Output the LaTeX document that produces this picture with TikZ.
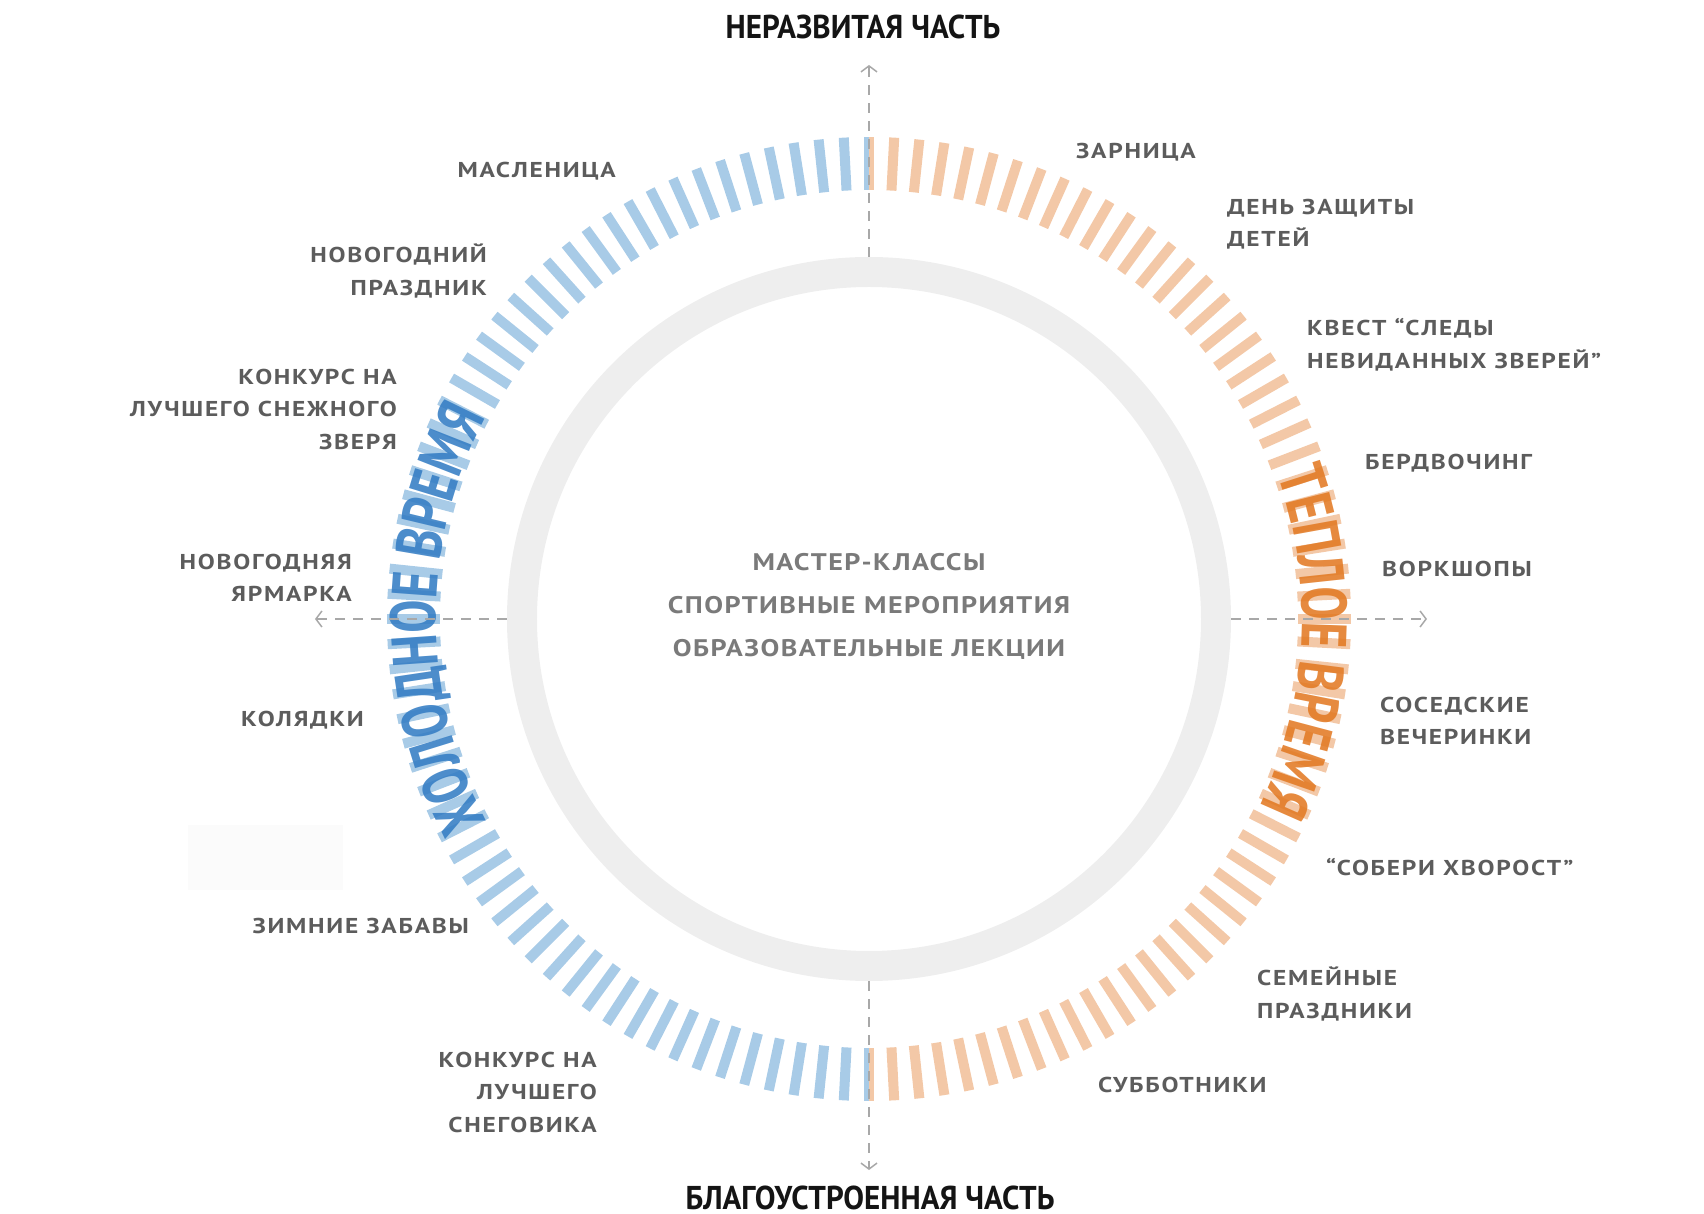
\documentclass[tikz,border=0pt]{standalone}
\usepackage{fontspec}
\usetikzlibrary{arrows.meta,decorations.text}
\newfontfamily\lblfont[FakeStretch=1.18,LetterSpace=8]{PT Sans}
\newfontfamily\ctrfont[FakeStretch=1.17,LetterSpace=6]{PT Sans}
\newfontfamily\ttlfont[FakeStretch=0.94]{PT Sans}
\newfontfamily\crvfont[FakeStretch=0.78]{PT Sans}
\definecolor{coldtick}{RGB}{168,203,231}
\definecolor{warmtick}{RGB}{243,200,167}
\definecolor{coldtxt}{RGB}{52,125,196}
\definecolor{warmtxt}{RGB}{226,122,36}
\definecolor{ringgray}{RGB}{238,238,238}
\definecolor{lblgray}{RGB}{92,92,92}
\definecolor{midgray}{RGB}{122,122,122}
\definecolor{axisgray}{RGB}{168,168,168}
\begin{document}
\begin{tikzpicture}[x=1pt,y=1pt,
  tickmark/.style={line width=10pt,line cap=butt},
  axisline/.style={axisgray,line width=1.5pt,dash pattern=on 10pt off 8pt,-{Straight Barb[length=6pt,width=16pt]}},
  lblL/.style={font=\lblfont\bfseries\fontsize{21.5}{32.5}\selectfont,text=lblgray,align=right,anchor=east,inner sep=0pt},
  lblR/.style={font=\lblfont\bfseries\fontsize{21.5}{32.5}\selectfont,text=lblgray,align=left,anchor=west,inner sep=0pt},
  ttl/.style={font=\ttlfont\bfseries\fontsize{33}{40}\selectfont,text=black!92,inner sep=0pt}]
\useasboundingbox (-869,-595) rectangle (835,619);
% faint box
\fill[black!1.5] (-681,-206) rectangle (-526,-271);
% gray ring
\node[circle,draw=ringgray,line width=30pt,minimum size=694pt,inner sep=0pt] (ring) at (0,0) {};
% ticks
\foreach \a in {93,96,...,267} \draw[tickmark,coldtick] (\a:429) -- (\a:482);
\foreach \a in {-87,-84,...,87} \draw[tickmark,warmtick] (\a:429) -- (\a:482);
\draw[coldtick,line width=5pt] (-2.5,429) -- (-2.5,482);
\draw[warmtick,line width=5pt] (2.5,429) -- (2.5,482);
\draw[coldtick,line width=5pt] (-2.5,-429) -- (-2.5,-482);
\draw[warmtick,line width=5pt] (2.5,-429) -- (2.5,-482);
% curved titles
\begin{scope}[opacity=0.88]
\path[decorate,decoration={text along path,text align=center,
  text={|\crvfont\bfseries\fontsize{64}{64}\selectfont\color{coldtxt}|ХОЛОДНОЕ ВРЕМЯ}}]
  (215:433) arc[start angle=215,end angle=145,radius=433];
\path[decorate,decoration={text along path,text align=center,
  text={|\crvfont\bfseries\fontsize{64}{64}\selectfont\color{warmtxt}|ТЕПЛОЕ ВРЕМЯ}}]
  (32:433) arc[start angle=32,end angle=-38,radius=433];
\end{scope}
% axes
\coordinate (topend) at (0,554);
\coordinate (botend) at (0,-551);
\coordinate (leftend) at (-554,0);
\coordinate (rightend) at (558,0);
\draw[axisline] (ring.north) -- (topend);
\draw[axisline] (ring.south) -- (botend);
\draw[axisline] (ring.west) -- (leftend);
\draw[axisline] (ring.east) -- (rightend);
% titles
\node[ttl] (ttop) at (-6,592) {НЕРАЗВИТАЯ ЧАСТЬ};
\node[ttl] (tbot) at (1,-579) {БЛАГОУСТРОЕННАЯ ЧАСТЬ};
% center
\node[font=\ctrfont\bfseries\fontsize{24}{43}\selectfont,text=midgray,align=center,inner sep=0pt] (center) at (0,13)
  {МАСТЕР-КЛАССЫ\\СПОРТИВНЫЕ МЕРОПРИЯТИЯ\\ОБРАЗОВАТЕЛЬНЫЕ ЛЕКЦИИ};
% left labels
\node[lblL] (l1) at (-253,448) {МАСЛЕНИЦА};
\node[lblL] (l2) at (-382,348) {НОВОГОДНИЙ\\ПРАЗДНИК};
\node[lblL] (l3) at (-472,210) {КОНКУРС НА\\ЛУЧШЕГО СНЕЖНОГО\\ЗВЕРЯ};
\node[lblL] (l4) at (-517,41) {НОВОГОДНЯЯ\\ЯРМАРКА};
\node[lblL] (l5) at (-505,-101) {КОЛЯДКИ};
\node[lblL] (l6) at (-400,-307) {ЗИМНИЕ ЗАБАВЫ};
\node[lblL] (l7) at (-272,-473) {КОНКУРС НА\\ЛУЧШЕГО\\СНЕГОВИКА};
% right labels
\node[lblR] (r1) at (207,467) {ЗАРНИЦА};
\node[lblR] (r2) at (358,395) {ДЕНЬ ЗАЩИТЫ\\ДЕТЕЙ};
\node[lblR] (r3) at (438,274) {КВЕСТ “СЛЕДЫ\\НЕВИДАННЫХ ЗВЕРЕЙ”};
\node[lblR] (r4) at (496,156) {БЕРДВОЧИНГ};
\node[lblR] (r5) at (513,50) {ВОРКШОПЫ};
\node[lblR] (r6) at (511,-102) {СОСЕДСКИЕ\\ВЕЧЕРИНКИ};
\node[lblR] (r7) at (457,-248) {“СОБЕРИ ХВОРОСТ”};
\node[lblR] (r8) at (388,-375) {СЕМЕЙНЫЕ\\ПРАЗДНИКИ};
\node[lblR] (r9) at (229,-466) {СУББОТНИКИ};
\end{tikzpicture}
\end{document}
